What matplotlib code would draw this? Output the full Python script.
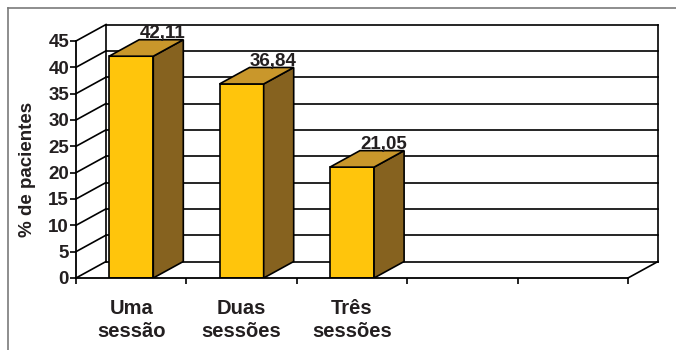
import matplotlib.pyplot as plt
import numpy as np
from matplotlib.lines import Line2D

plt.rcParams['font.family'] = ['Liberation Sans', 'DejaVu Sans']
plt.rcParams['font.weight'] = 'bold'

# dados
categorias = ['Uma\nsessão', 'Duas\nsessões', 'Três\nsessões']
valores = [42.11, 36.84, 21.05]
rotulos = ['42,11', '36,84', '21,05']
n_slots = 5
yticks = np.arange(0, 50, 5)

# perspectiva (em unidades de dados)
dx = 0.272
dy = 3.13
larg = 0.4

cor_frente = '#FFC50C'
cor_lado = '#86621F'
cor_topo = '#C9972B'
cor_texto = '#231F20'
lw = 1.2

fig = plt.figure(figsize=(6.76, 3.5), dpi=100)
ax = fig.add_axes([76 / 676, 72 / 350, 582 / 676, 253.5 / 350])
ax.set_xlim(0, n_slots + dx)
ax.set_ylim(0, yticks[-1] + dy)

# paredes e grade
ytop = yticks[-1]
for v in yticks:
    ax.plot([dx, n_slots + dx], [v + dy, v + dy], color='k', lw=lw, clip_on=False, zorder=1)
    ax.plot([0, dx], [v, v + dy], color='k', lw=lw, clip_on=False, zorder=1)
ax.plot([dx, dx], [dy, ytop + dy], color='k', lw=lw, clip_on=False, zorder=1)
ax.plot([n_slots + dx, n_slots + dx], [dy, ytop + dy], color='k', lw=lw, clip_on=False, zorder=1)
ax.plot([n_slots, n_slots + dx], [0, dy], color='k', lw=lw, clip_on=False, zorder=1)

# barras 3D
centros = np.arange(len(valores)) + 0.5
ax.bar(centros, valores, width=larg, color=cor_frente, edgecolor='k', linewidth=lw, zorder=3)
for c, v, r in zip(centros, valores, rotulos):
    x0, x1 = c - larg / 2, c + larg / 2
    ax.fill([x1, x1 + dx, x1 + dx, x1], [0, dy, v + dy, v],
            facecolor=cor_lado, edgecolor='k', lw=lw, zorder=3)
    ax.fill([x0, x0 + dx, x1 + dx, x1], [v, v + dy, v + dy, v],
            facecolor=cor_topo, edgecolor='k', lw=lw, zorder=3)
    ax.annotate(r, (c + dx * 1.05, v + dy), xytext=(0, 1), textcoords='offset points',
                ha='center', va='baseline', fontsize=13.5, fontweight='bold',
                color=cor_texto, zorder=5)

# eixos
for s in ['top', 'right']:
    ax.spines[s].set_visible(False)
ax.spines['left'].set_bounds(0, ytop)
ax.spines['bottom'].set_bounds(0, n_slots)
for s in ['left', 'bottom']:
    ax.spines[s].set_linewidth(1.3)
    ax.spines[s].set_zorder(4)
ax.set_yticks(yticks)
ax.set_xticks(np.arange(n_slots + 1))
ax.set_xticklabels([])
ax.tick_params(axis='y', length=4, width=1.2, pad=1, labelsize=13.5, labelcolor=cor_texto)
ax.tick_params(axis='x', length=4, width=1.2)
for t in ax.get_yticklabels():
    t.set_fontweight('bold')

for c, cat in zip(centros, categorias):
    ax.annotate(cat, (c, 0), xytext=(0, -15), textcoords='offset points',
                ha='center', va='top', fontsize=14.5, fontweight='bold',
                color=cor_texto, linespacing=1.25)

ax.set_ylabel('% de pacientes', fontsize=13.5, fontweight='bold', color=cor_texto)
ax.yaxis.set_label_coords(-0.068, 0.43)

# moldura externa
fig.add_artist(Line2D([8 / 676, 1], [1 - 8 / 350, 1 - 8 / 350], color='#7a7a7a', lw=1.2))
fig.add_artist(Line2D([8 / 676, 8 / 676], [0, 1 - 8 / 350], color='#7a7a7a', lw=1.2))

fig.savefig('out.png', dpi=100)
